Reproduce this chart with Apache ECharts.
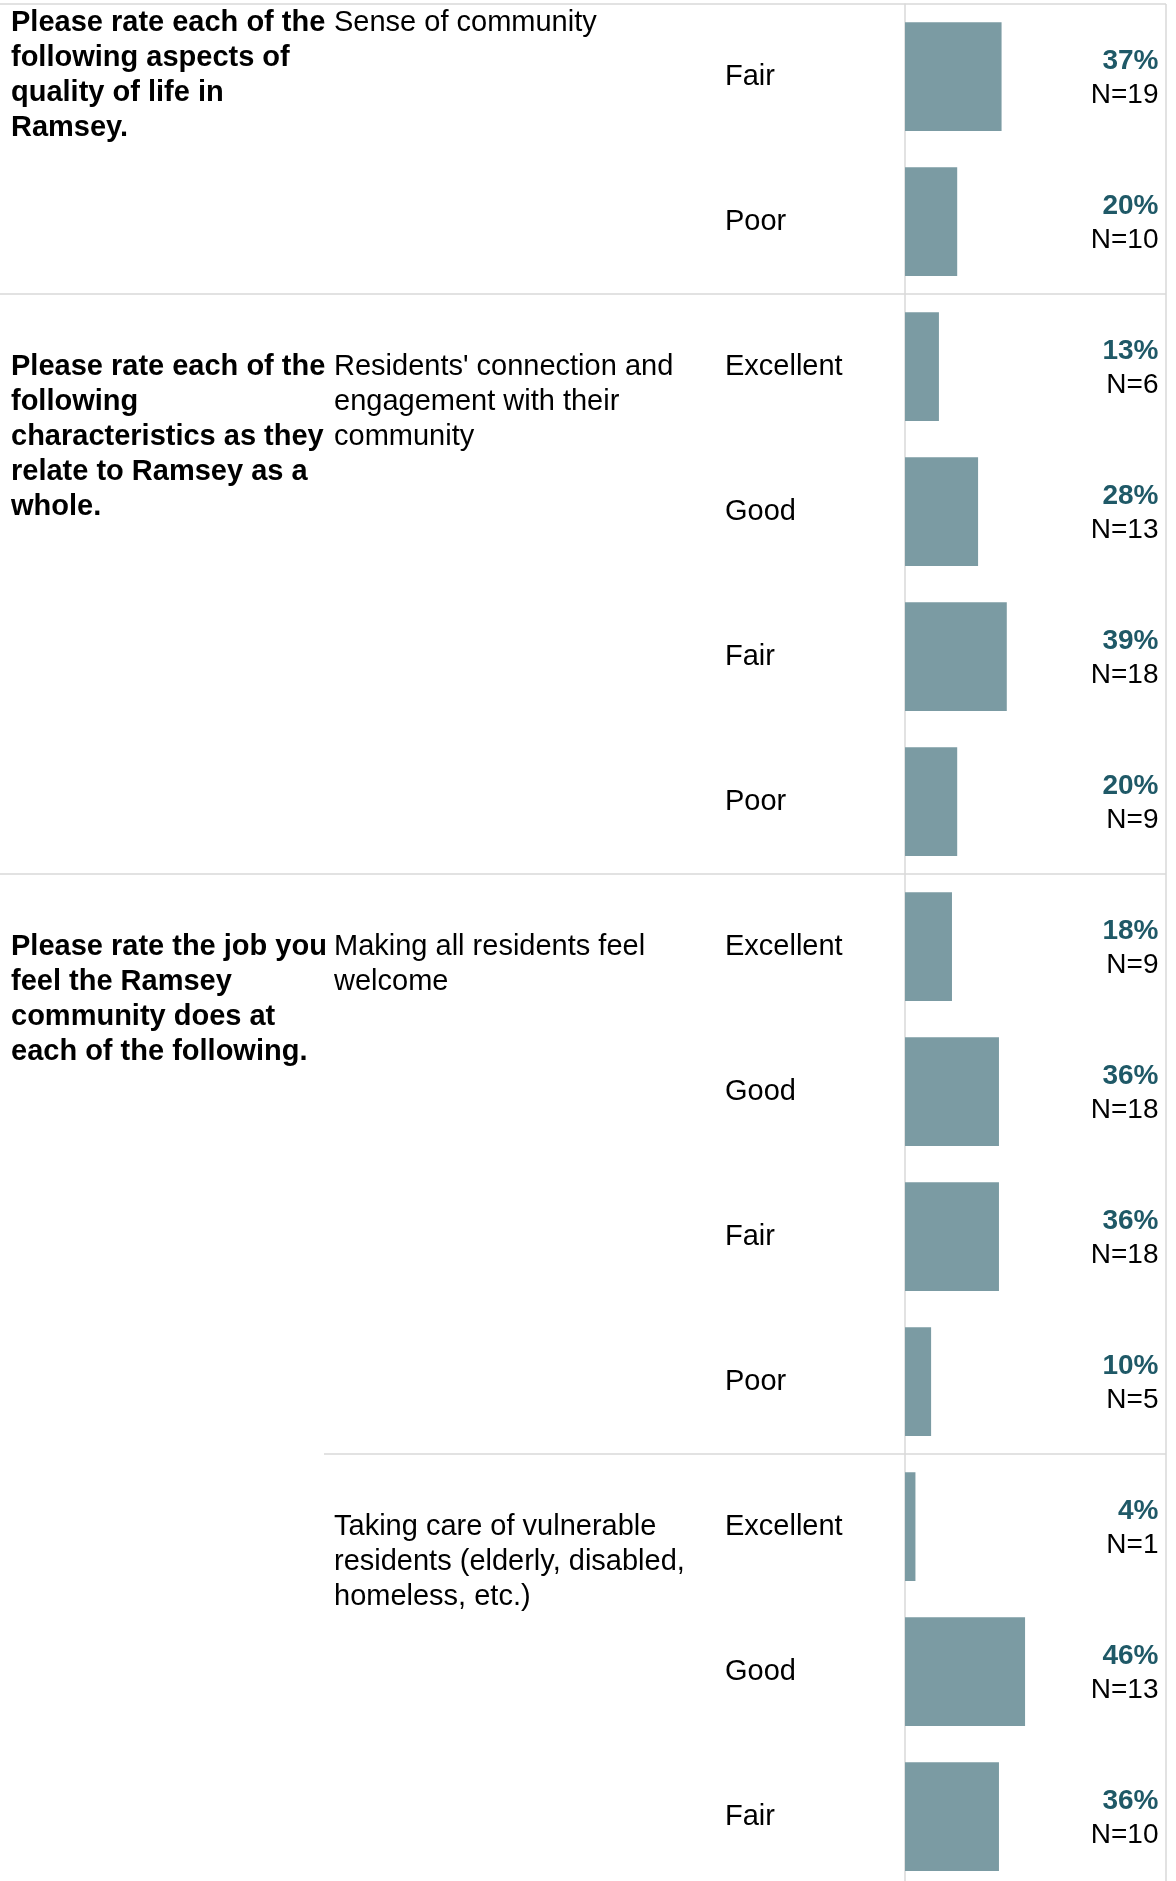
<!DOCTYPE html>
<html>
<head>
<meta charset="utf-8">
<script src="https://cdn.jsdelivr.net/npm/echarts@6/dist/echarts.min.js"></script>
<style>
html,body{margin:0;padding:0;background:#fff;}
#main{width:1176px;height:1881px;}
</style>
</head>
<body>
<div id="main"></div>
<script>
// one entry per bar row, top to bottom
var ratings = ['Fair','Poor','Excellent','Good','Fair','Poor','Excellent','Good','Fair','Poor','Excellent','Good','Fair'];
var percents = [37,20,13,28,39,20,18,36,36,10,4,46,36];
var counts = [19,10,6,13,18,9,9,18,18,5,1,13,10];

// items (second column) and the row where each starts
var itemStart = [0,2,6,10];
var itemNames = [
	'Sense of community',
	"Residents' connection and\nengagement with their\ncommunity",
	'Making all residents feel\nwelcome',
	'Taking care of vulnerable\nresidents (elderly, disabled,\nhomeless, etc.)'
];

// questions (first column) and the row where each starts
var questionStart = [0,2,6];
var questionNames = [
	'Please rate each of the\nfollowing aspects of\nquality of life in\nRamsey.',
	'Please rate each of the\nfollowing\ncharacteristics as they\nrelate to Ramsey as a\nwhole.',
	'Please rate the job you\nfeel the Ramsey\ncommunity does at\neach of the following.'
];

var FONT = '"Liberation Sans", Arial, Helvetica, sans-serif';
var LINE = '#d9d9d9';

var myChart = echarts.init(document.getElementById('main'));

var option = {
	animation: false,
	grid: {left: 905, top: 4, width: 261, height: 1885, outerBoundsMode: 'none', containLabel: false},
	xAxis: {type: 'value', min: 0, max: 100, show: false},
	yAxis: {
		type: 'category',
		inverse: true,
		data: ratings.map(function (r, i) { return String(i); }),
		axisLine: {show: true, lineStyle: {color: LINE, width: 1.5}},
		axisTick: {show: false},
		splitLine: {show: false},
		axisLabel: {
			align: 'left',
			margin: 180,
			fontSize: 29,
			fontFamily: FONT,
			color: '#000',
			formatter: function (v, idx) { return ratings[idx]; }
		}
	},
	series: [
		{
			type: 'bar',
			data: percents,
			barWidth: '75%',
			silent: true,
			itemStyle: {color: '#7b9ba3'}
		},
		{
			type: 'scatter',
			data: percents.map(function (p, i) { return [100, i]; }),
			symbolSize: 1,
			silent: true,
			itemStyle: {color: 'transparent', opacity: 1},
			label: {
				show: true,
				position: 'left',
				distance: 7,
				offset: [0, 2],
				opacity: 1,
				formatter: function (params) {
					var i = params.dataIndex;
					return '{p|' + percents[i] + '%}\n{n|N=' + counts[i] + '}';
				},
				rich: {
					p: {fontSize: 28, fontWeight: 'bold', color: '#1f5967', lineHeight: 34.5, align: 'right', fontFamily: FONT},
					n: {fontSize: 28, color: '#000', lineHeight: 34.5, align: 'right', fontFamily: FONT}
				}
			}
		}
	]
};
myChart.setOption(option);

// positions of rows, taken from the y axis
function rowY(i) { return myChart.convertToPixel({yAxisIndex: 0}, i); }
var pitch = rowY(1) - rowY(0);
function edgeY(i) { return rowY(i) - pitch / 2; }

var graphics = [];
var right = 1166;

// horizontal separators
graphics.push({type: 'line', shape: {x1: 0, y1: edgeY(0), x2: right, y2: edgeY(0)}, style: {stroke: LINE, lineWidth: 1.5}});
questionStart.slice(1).forEach(function (s) {
	graphics.push({type: 'line', shape: {x1: 0, y1: edgeY(s), x2: right, y2: edgeY(s)}, style: {stroke: LINE, lineWidth: 1.5}});
});
itemStart.forEach(function (s) {
	if (questionStart.indexOf(s) >= 0) return;
	graphics.push({type: 'line', shape: {x1: 324, y1: edgeY(s), x2: right, y2: edgeY(s)}, style: {stroke: LINE, lineWidth: 1.5}});
});
// right border
graphics.push({type: 'line', shape: {x1: right, y1: edgeY(0), x2: right, y2: 1881}, style: {stroke: LINE, lineWidth: 1.5}});

// first section continues from a previous page: text sits at the top
function textTop(s) {
	var c = (s === 0) ? edgeY(0) + 19 : rowY(s);
	return c - 17.5;
}

questionNames.forEach(function (q, k) {
	graphics.push({
		type: 'text', x: 11, y: textTop(questionStart[k]),
		style: {text: q, fontSize: 29, fontWeight: 'bold', fontFamily: FONT, fill: '#000', lineHeight: 35, verticalAlign: 'top'}
	});
});
itemNames.forEach(function (t, k) {
	graphics.push({
		type: 'text', x: 334, y: textTop(itemStart[k]),
		style: {text: t, fontSize: 29, fontFamily: FONT, fill: '#000', lineHeight: 35, verticalAlign: 'top'}
	});
});

myChart.setOption({graphic: graphics});
</script>
</body>
</html>
